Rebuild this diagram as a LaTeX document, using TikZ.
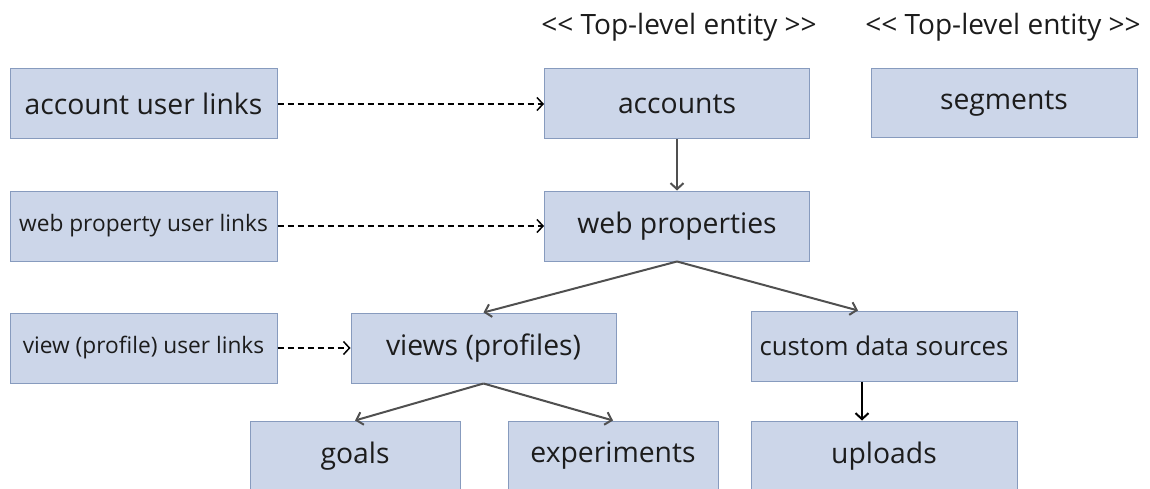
\documentclass[tikz,border=0pt]{standalone}
\usepackage{fontspec}
\setmainfont{Open Sans}
\usetikzlibrary{arrows.meta, positioning}
\definecolor{boxfill}{RGB}{204,214,233}
\definecolor{boxline}{RGB}{135,155,190}
\definecolor{linkgray}{RGB}{80,80,80}
\definecolor{txt}{RGB}{28,28,28}

\begin{document}
\begin{tikzpicture}[
    x=1pt, y=-1pt,
    >={Straight Barb[length=6pt,width=13pt]},
    entity/.style={draw=boxline, line width=1pt, fill=boxfill, rectangle, minimum width=265pt, minimum height=70pt, inner sep=0pt, text=txt, font=\fontsize{28.3}{32}\selectfont},
    small/.style={entity, minimum width=210pt},
    linkbox/.style={entity, minimum width=267pt, font=\fontsize{22.7}{26}\selectfont},
    stereo/.style={text=txt, font=\fontsize{28}{32}\selectfont},
    dasharrow/.style={->, line width=1.5pt, draw=black, dash pattern=on 6pt off 4pt},
    arrow/.style={->, line width=2pt, draw=linkgray}
]
\useasboundingbox (0,0) rectangle (1150,489);

\node[stereo] (t1) at (679,27) {{<}{<} Top-level entity {>}{>}};
\node[stereo] (t2) at (1003,27) {{<}{<} Top-level entity {>}{>}};

\node[linkbox, font=\fontsize{28.3}{32}\selectfont] (1) at (143.5,104) {account user links};
\node[entity] (2) at (677,104) {accounts};
\node[entity, minimum width=266pt, minimum height=69pt] (3) at (1004,103.5) {segments};
\node[linkbox] (4) at (143.5,226) {web property user links};
\node[entity] (5) at (677,226) {web properties};
\node[linkbox] (6) at (143.5,348) {view (profile) user links};
\node[entity] (7) at (483.5,348) {views (profiles)};
\node[entity, minimum width=266pt, font=\fontsize{25.8}{29}\selectfont] (8) at (884,346) {custom data sources};
\node[small] (9) at (355,456) {goals};
\node[small] (10) at (613,456) {experiments};
\node[entity, minimum width=266pt] (11) at (884,456) {uploads};

\draw[dasharrow] (1) -- (2);
\draw[dasharrow] (4) -- (5);
\draw[dasharrow] (6) -- (7);
\draw[arrow] (2) -- (5);
\draw[arrow] (5.south) -- (7.north);
\draw[arrow] (5.south) -- ([xshift=-26pt]8.north);
\draw[arrow] (7.south) -- (9.north);
\draw[arrow] (7.south) -- (10.north);
\draw[arrow, draw=black] ([xshift=-22pt]8.south) -- ([xshift=-22pt]11.north);
\end{tikzpicture}
\end{document}
